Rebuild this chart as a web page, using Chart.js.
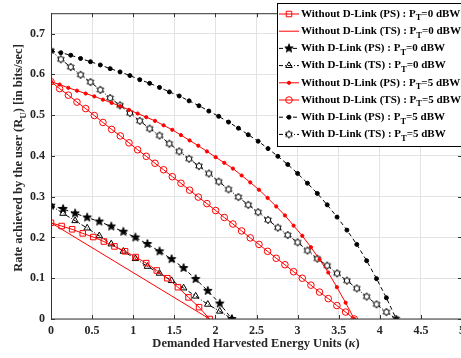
<!DOCTYPE html>
<html>
<head>
<meta charset="utf-8">
<script src="https://cdn.jsdelivr.net/npm/chart.js@4.4.1/dist/chart.umd.min.js"></script>
<style>
  html, body { margin: 0; padding: 0; background: #fff; overflow: hidden; }
  #wrap { width: 472px; height: 358px; }
</style>
</head>
<body>
<div id="wrap"><canvas id="chart" width="472" height="358"></canvas></div>
<script>
// demanded harvested energy units (kappa) for each group of curves
const kappaNoLink0 = [0, 0.129, 0.257, 0.386, 0.515, 0.643, 0.772, 0.901, 1.029, 1.158, 1.287, 1.415, 1.544, 1.673, 1.801, 1.93];
const kappaNoLinkTS0 = [0, 1.93];
const kappaLink0 = [0, 0.147, 0.293, 0.44, 0.587, 0.733, 0.88, 1.027, 1.173, 1.32, 1.467, 1.613, 1.76, 1.907, 2.053, 2.2];
const kappaNoLink5 = [0, 0.105, 0.211, 0.316, 0.422, 0.527, 0.632, 0.738, 0.843, 0.949, 1.054, 1.159, 1.265, 1.370, 1.476, 1.581, 1.686, 1.792,
  1.897, 2.003, 2.108, 2.213, 2.319, 2.424, 2.530, 2.635, 2.740, 2.846, 2.951, 3.057, 3.162, 3.267, 3.373, 3.478, 3.584, 3.689];
const kappaLink5 = [0, 0.12, 0.24, 0.36, 0.48, 0.6, 0.72, 0.84, 0.96, 1.08, 1.2, 1.32, 1.44, 1.56, 1.68, 1.8, 1.92, 2.04,
  2.16, 2.28, 2.4, 2.52, 2.64, 2.76, 2.88, 3.0, 3.12, 3.24, 3.36, 3.48, 3.6, 3.72, 3.84, 3.96, 4.08, 4.2];

// rate achieved by the user (R_U)
const rateNoLinkPS0 = [0.236, 0.228, 0.220, 0.210, 0.201, 0.190, 0.178, 0.166, 0.152, 0.137, 0.119, 0.100, 0.078, 0.053, 0.029, 0];
const rateNoLinkTS0 = [0.236, 0];
const rateLinkPS0 = [0.278, 0.270, 0.259, 0.249, 0.239, 0.227, 0.214, 0.200, 0.184, 0.166, 0.147, 0.125, 0.098, 0.069, 0.038, 0];
const rateLinkTS0 = [0.278, 0.259, 0.241, 0.223, 0.204, 0.184, 0.166, 0.148, 0.129, 0.112, 0.094, 0.076, 0.056, 0.036, 0.019, 0];
const rateNoLinkPS5 = [0.582, 0.575, 0.567, 0.560, 0.553, 0.546, 0.538, 0.530, 0.522, 0.513, 0.504, 0.495, 0.486, 0.475, 0.464, 0.451, 0.438, 0.425,
  0.411, 0.397, 0.383, 0.369, 0.352, 0.335, 0.317, 0.297, 0.276, 0.254, 0.229, 0.204, 0.176, 0.146, 0.114, 0.078, 0.040, 0];
const rateNoLinkTS5 = [0.582, 0.565, 0.549, 0.532, 0.516, 0.499, 0.482, 0.465, 0.449, 0.432, 0.415, 0.399, 0.382, 0.366, 0.349, 0.333, 0.316, 0.299,
  0.283, 0.266, 0.249, 0.233, 0.216, 0.199, 0.183, 0.166, 0.149, 0.133, 0.116, 0.100, 0.083, 0.066, 0.050, 0.033, 0.017, 0];
const rateLinkPS5 = [0.658, 0.653, 0.647, 0.639, 0.631, 0.623, 0.614, 0.606, 0.597, 0.587, 0.578, 0.568, 0.557, 0.547, 0.535, 0.523, 0.510, 0.497,
  0.483, 0.468, 0.452, 0.436, 0.418, 0.399, 0.379, 0.357, 0.333, 0.308, 0.280, 0.250, 0.218, 0.183, 0.143, 0.099, 0.052, 0];
const rateLinkTS5 = [0.658, 0.637, 0.618, 0.599, 0.581, 0.562, 0.542, 0.524, 0.505, 0.486, 0.467, 0.450, 0.430, 0.411, 0.393, 0.375, 0.357, 0.337,
  0.318, 0.299, 0.280, 0.262, 0.243, 0.224, 0.206, 0.188, 0.168, 0.148, 0.131, 0.112, 0.094, 0.075, 0.055, 0.036, 0.017, 0];

const xTicks = [0, 0.5, 1, 1.5, 2, 2.5, 3, 3.5, 4, 4.5, 5];
const yTicks = [0, 0.1, 0.2, 0.3, 0.4, 0.5, 0.6, 0.7];

const FONT = '"Liberation Serif", "Times New Roman", serif';
const RED = '#ff0000';
const BLACK = '#000000';

// small canvases used as marker images
function starMarker(points, outer, inner, fill) {
  const s = 12;
  const cv = document.createElement('canvas');
  cv.width = s; cv.height = s;
  const c = cv.getContext('2d');
  c.beginPath();
  for (let i = 0; i < points * 2; i++) {
    const r = i % 2 === 0 ? outer : inner;
    const a = -Math.PI / 2 + i * Math.PI / points;
    const px = s / 2 + r * Math.cos(a), py = s / 2 + r * Math.sin(a);
    if (i === 0) c.moveTo(px, py); else c.lineTo(px, py);
  }
  c.closePath();
  c.fillStyle = fill; c.fill();
  c.strokeStyle = BLACK; c.lineWidth = 1; c.stroke();
  return cv;
}
const filledStar = starMarker(5, 4.4, 1.8, BLACK);
const hexagram = starMarker(6, 3.8, 2.2, '#ffffff');

function series(label, xs, ys, opts) {
  return Object.assign({
    label: label,
    data: xs.map((x, i) => ({ x: x, y: ys[i] })),
    borderWidth: 1,
    fill: false,
    tension: 0,
    pointBorderWidth: 1,
    pointBackgroundColor: 'rgba(0,0,0,0)'
  }, opts);
}

const datasets = [
  series('Without D-Link (PS) : P|T|=0 dBW', kappaNoLink0, rateNoLinkPS0,
    { borderColor: RED, pointBorderColor: RED, pointStyle: 'rect', pointRadius: 3.9 }),
  series('Without D-Link (TS) : P|T|=0 dBW', kappaNoLinkTS0, rateNoLinkTS0,
    { borderColor: RED, pointRadius: 0 }),
  series('With D-Link (PS) : P|T|=0 dBW', kappaLink0, rateLinkPS0,
    { borderColor: BLACK, borderDash: [4, 3], pointStyle: filledStar, pointRadius: 4 }),
  series('With D-Link (TS) : P|T|=0 dBW', kappaLink0, rateLinkTS0,
    { borderColor: BLACK, borderDash: [4, 2, 1, 2], pointBorderColor: BLACK, pointStyle: 'triangle', pointRadius: 3.8 }),
  series('Without D-Link (PS) : P|T|=5 dBW', kappaNoLink5, rateNoLinkPS5,
    { borderColor: RED, pointBorderColor: RED, pointBackgroundColor: RED, pointStyle: 'circle', pointRadius: 1.6 }),
  series('Without D-Link (TS) : P|T|=5 dBW', kappaNoLink5, rateNoLinkTS5,
    { borderColor: RED, pointBorderColor: RED, pointStyle: 'circle', pointRadius: 3.3 }),
  series('With D-Link (PS) : P|T|=5 dBW', kappaLink5, rateLinkPS5,
    { borderColor: BLACK, borderDash: [4, 3], pointBorderColor: BLACK, pointBackgroundColor: BLACK, pointStyle: 'circle', pointRadius: 2 }),
  series('With D-Link (TS) : P|T|=5 dBW', kappaLink5, rateLinkTS5,
    { borderColor: BLACK, borderDash: [4, 2, 1, 2], pointStyle: hexagram, pointRadius: 4 })
];

// text with a subscript: parts separated by '|', middle part is lowered
function richText(ctx, str, x, y, size, subSize, align) {
  const parts = str.split('|');
  const widths = parts.map((p, i) => {
    ctx.font = 'bold ' + (i === 1 ? subSize : size) + 'px ' + FONT;
    return ctx.measureText(p).width;
  });
  const total = widths.reduce((a, b) => a + b, 0);
  let cx = align === 'center' ? x - total / 2 : x;
  parts.forEach((p, i) => {
    ctx.font = 'bold ' + (i === 1 ? subSize : size) + 'px ' + FONT;
    ctx.fillText(p, cx, i === 1 ? y + size * 0.38 : y);
    cx += widths[i];
  });
}

const decor = {
  id: 'decor',
  afterDraw(chart) {
    const ctx = chart.ctx, a = chart.chartArea;
    const xs = chart.scales.x, ys = chart.scales.y;
    ctx.save();
    // axes box with inward ticks
    ctx.strokeStyle = '#333';
    ctx.lineWidth = 1;
    ctx.setLineDash([]);
    ctx.strokeRect(a.left + 0.5, a.top + 0.5, a.right - a.left, a.bottom - a.top - 0.5);
    ctx.beginPath();
    xTicks.forEach(v => {
      const px = Math.round(xs.getPixelForValue(v)) + 0.5;
      ctx.moveTo(px, a.bottom); ctx.lineTo(px, a.bottom - 4);
      ctx.moveTo(px, a.top); ctx.lineTo(px, a.top + 4);
    });
    yTicks.forEach(v => {
      const py = Math.round(ys.getPixelForValue(v)) + 0.5;
      ctx.moveTo(a.left, py); ctx.lineTo(a.left + 4, py);
      ctx.moveTo(a.right, py); ctx.lineTo(a.right - 4, py);
    });
    ctx.stroke();

    // axis titles
    ctx.fillStyle = '#262626';
    ctx.textBaseline = 'middle';
    ctx.textAlign = 'left';
    const t1 = 'Demanded Harvested Energy Units (', t2 = 'κ', t3 = ')';
    ctx.font = 'bold 12.5px ' + FONT;
    const w1 = ctx.measureText(t1).width, w3 = ctx.measureText(t3).width;
    ctx.font = 'bold italic 12.5px ' + FONT;
    const w2 = ctx.measureText(t2).width;
    const tx = (a.left + 461) / 2 - (w1 + w2 + w3) / 2;
    ctx.font = 'bold 12.5px ' + FONT;
    ctx.fillText(t1, tx, 344);
    ctx.font = 'bold italic 12.5px ' + FONT;
    ctx.fillText(t2, tx + w1, 344);
    ctx.font = 'bold 12.5px ' + FONT;
    ctx.fillText(t3, tx + w1 + w2, 344);

    ctx.save();
    ctx.translate(19, 158);
    ctx.rotate(-Math.PI / 2);
    richText(ctx, 'Rate achieved by the user (R|U|) [in bits/sec]', 0, 0, 12.5, 9, 'center');
    ctx.restore();

    // legend
    const lx = 277.5, ly = 3.5, lw = 190, lh = 143;
    ctx.fillStyle = '#fff';
    ctx.fillRect(lx, ly, lw, lh);
    ctx.strokeStyle = '#000';
    ctx.strokeRect(lx, ly, lw, lh);
    chart.data.datasets.forEach((d, i) => {
      const ry = 14 + i * 17.2;
      ctx.strokeStyle = d.borderColor;
      ctx.lineWidth = 1;
      ctx.setLineDash(d.borderDash || []);
      ctx.beginPath();
      ctx.moveTo(279, ry); ctx.lineTo(299, ry);
      ctx.stroke();
      ctx.setLineDash([]);
      if (d.pointRadius > 0) {
        ctx.strokeStyle = d.pointBorderColor || d.borderColor;
        ctx.fillStyle = d.pointBackgroundColor;
        Chart.helpers.drawPoint(ctx, {
          pointStyle: d.pointStyle, radius: d.pointRadius, rotation: 0, borderWidth: 1
        }, 289, ry);
      }
      ctx.fillStyle = '#000';
      ctx.textBaseline = 'middle';
      ctx.textAlign = 'left';
      richText(ctx, d.label, 301, ry, 11, 8.5, 'left');
    });
    ctx.restore();
  }
};

new Chart(document.getElementById('chart'), {
  type: 'line',
  data: { datasets: datasets },
  plugins: [decor],
  options: {
    responsive: false,
    animation: false,
    events: [],
    layout: { padding: { top: 1, left: 0, right: 10, bottom: 0 } },
    plugins: { legend: { display: false }, tooltip: { enabled: false } },
    scales: {
      x: {
        type: 'linear', min: 0, max: 5,
        afterFit: s => { s.height = 39; },
        afterBuildTicks: s => { s.ticks = xTicks.map(v => ({ value: v })); },
        grid: { color: '#e3e3e3', drawTicks: false },
        border: { display: false },
        ticks: {
          padding: 5, color: '#262626', maxRotation: 0,
          font: { family: FONT, size: 12, weight: 'bold' },
          callback: v => String(v)
        }
      },
      y: {
        type: 'linear', min: 0, max: 0.75,
        afterFit: s => { s.width = 51; },
        afterBuildTicks: s => { s.ticks = yTicks.map(v => ({ value: v })); },
        grid: { color: '#e3e3e3', drawTicks: false },
        border: { display: false },
        ticks: {
          padding: 6, color: '#262626',
          font: { family: FONT, size: 12, weight: 'bold' },
          callback: v => String(Math.round(v * 10) / 10)
        }
      }
    }
  }
});
</script>
</body>
</html>
